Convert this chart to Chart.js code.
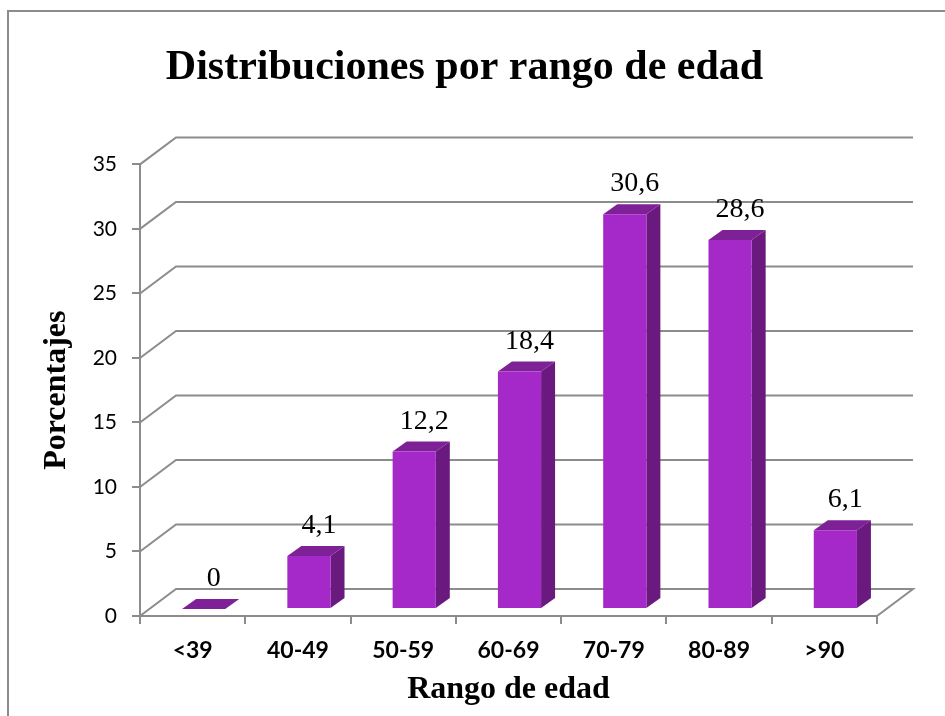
<!DOCTYPE html>
<html>
<head>
<meta charset="utf-8">
<script src="https://cdn.jsdelivr.net/npm/chart.js@4.4.0/dist/chart.umd.min.js"></script>
<style>
  html, body { margin: 0; padding: 0; background: #fff; }
  canvas { display: block; }
</style>
</head>
<body>
<canvas id="barChart" width="945" height="716"></canvas>
<script>
// datos del grafico
const rangos = ['<39', '40-49', '50-59', '60-69', '70-79', '80-89', '>90'];
const porcentajes = [0, 4.1, 12.2, 18.4, 30.6, 28.6, 6.1];
const etiquetas = ['0', '4,1', '12,2', '18,4', '30,6', '28,6', '6,1'];

const gris = '#8c8c8c';
const frente = '#a529c8';
const lado = '#6a1a7e';
const tapa = '#7e2096';

// profundidad del "3D"
const fondo = { dx: 36, dy: -27 };
const barraOff = { dx: 11, dy: -7 };
const barraProf = { dx: 14, dy: -10 };

const marco = {
  id: 'marco',
  beforeDraw(chart) {
    const ctx = chart.ctx;
    ctx.save();
    ctx.fillStyle = '#fff';
    ctx.fillRect(0, 0, chart.width, chart.height);
    ctx.strokeStyle = gris;
    ctx.lineWidth = 2;
    ctx.beginPath();
    ctx.moveTo(8, chart.height);
    ctx.lineTo(8, 11);
    ctx.lineTo(chart.width, 11);
    ctx.stroke();
    ctx.restore();
  }
};

const tresD = {
  id: 'tresD',
  beforeDatasetsDraw(chart) {
    const ctx = chart.ctx;
    const y = chart.scales.y;
    const a = chart.chartArea;
    // lineas de la pared y el piso
    ctx.save();
    ctx.strokeStyle = gris;
    ctx.lineWidth = 2;
    y.ticks.forEach(t => {
      const py = y.getPixelForValue(t.value);
      ctx.beginPath();
      ctx.moveTo(a.left, py);
      ctx.lineTo(a.left + fondo.dx, py + fondo.dy);
      ctx.lineTo(a.right + fondo.dx, py + fondo.dy);
      if (t.value === 0) ctx.lineTo(a.right, py);
      ctx.stroke();
    });
    ctx.restore();

    // caras laterales y superiores de las barras
    ctx.save();
    ctx.translate(barraOff.dx, barraOff.dy);
    const meta = chart.getDatasetMeta(0);
    meta.data.forEach(bar => {
      const l = bar.x - bar.width / 2;
      const r = bar.x + bar.width / 2;
      const top = bar.y, base = bar.base;
      ctx.fillStyle = lado;
      ctx.beginPath();
      ctx.moveTo(r, base);
      ctx.lineTo(r + barraProf.dx, base + barraProf.dy);
      ctx.lineTo(r + barraProf.dx, top + barraProf.dy);
      ctx.lineTo(r, top);
      ctx.closePath();
      ctx.fill();
      ctx.fillStyle = tapa;
      ctx.beginPath();
      ctx.moveTo(l, top);
      ctx.lineTo(l + barraProf.dx, top + barraProf.dy);
      ctx.lineTo(r + barraProf.dx, top + barraProf.dy);
      ctx.lineTo(r, top);
      ctx.closePath();
      ctx.fill();
    });
  },
  afterDatasetsDraw(chart) {
    const ctx = chart.ctx;
    ctx.restore();
    // valores sobre las barras
    const meta = chart.getDatasetMeta(0);
    ctx.save();
    ctx.font = '28px "Liberation Serif"';
    ctx.fillStyle = '#000';
    ctx.textAlign = 'center';
    ctx.textBaseline = 'alphabetic';
    meta.data.forEach((bar, i) => {
      ctx.fillText(etiquetas[i], bar.x + barraOff.dx + 10, bar.y + barraOff.dy - 23);
    });
    ctx.restore();
  }
};

const ctx = document.getElementById('barChart').getContext('2d');

const barChart = new Chart(ctx, {
  type: 'bar',
  data: {
    labels: rangos,
    datasets: [{
      label: 'Porcentajes',
      data: porcentajes,
      backgroundColor: frente,
      borderWidth: 0,
      barPercentage: 0.41,
      categoryPercentage: 1,
      clip: false
    }]
  },
  options: {
    responsive: false,
    animation: false,
    layout: { padding: { top: 12, left: 12, right: 28, bottom: 0 } },
    plugins: {
      legend: { display: false },
      tooltip: { enabled: false },
      title: {
        display: true,
        text: 'Distribuciones por rango de edad',
        color: '#000',
        font: { family: '"Liberation Serif"', size: 42, weight: 'bold' },
        padding: { top: 31, bottom: 71 }
      }
    },
    scales: {
      x: {
        afterFit(scale) { scale.height = 100; },
        grid: { display: true, drawOnChartArea: false, drawTicks: true, tickLength: 8, color: gris, lineWidth: 2 },
        border: { display: true, color: gris, width: 2 },
        ticks: {
          color: '#000',
          padding: 13,
          maxRotation: 0,
          font: { family: 'Lato', size: 23, weight: 'bold' }
        },
        title: {
          display: true,
          text: 'Rango de edad',
          color: '#000',
          font: { family: '"Liberation Serif"', size: 32, weight: 'bold' },
          padding: { top: 0, bottom: 7 }
        }
      },
      y: {
        min: 0,
        max: 35,
        afterFit(scale) { scale.width = 128; },
        grid: { display: true, drawOnChartArea: false, drawTicks: true, tickLength: 8, color: gris, lineWidth: 2 },
        border: { display: true, color: gris, width: 2 },
        ticks: {
          stepSize: 5,
          color: '#000',
          padding: 15,
          font: { family: 'Lato', size: 21 }
        },
        title: {
          display: true,
          text: 'Porcentajes',
          color: '#000',
          font: { family: '"Liberation Serif"', size: 32, weight: 'bold' },
          padding: { top: 26, bottom: 0 }
        }
      },
      // eje vacio a la derecha: deja sitio para la pared del fondo
      yFondo: {
        position: 'right',
        min: 0,
        max: 35,
        afterFit(scale) { scale.width = 40; },
        grid: { display: false },
        border: { display: false },
        ticks: { display: false }
      }
    }
  },
  plugins: [marco, tresD]
});
</script>
</body>
</html>
